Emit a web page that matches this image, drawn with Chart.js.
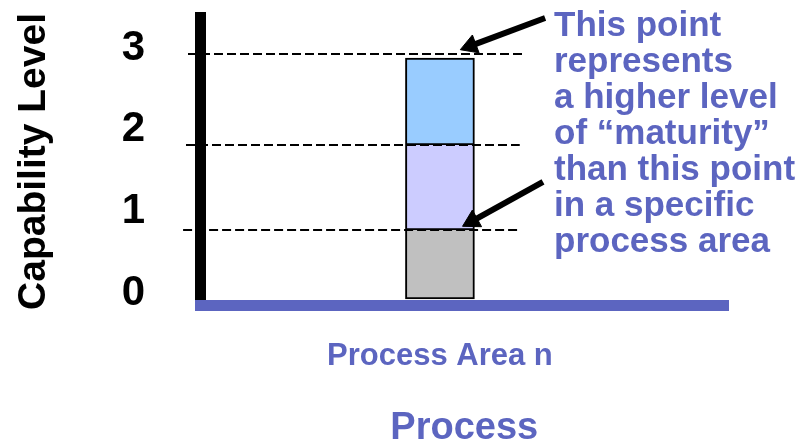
<!DOCTYPE html>
<html>
<head>
<meta charset="utf-8">
<script src="https://cdn.jsdelivr.net/npm/chart.js@4"></script>
<style>
  html, body { margin: 0; padding: 0; background: #fff; }
  #wrap { width: 801px; height: 448px; }
</style>
</head>
<body>
<div id="wrap"><canvas id="levelChart"></canvas></div>
<script>
// values
const yTicks = [0, 1, 2, 3];
const xLabel = 'Process Area n';
const barX = 45.4;
const segLow = [0, 0.845, 1.886];
const segHigh = [0.845, 1.886, 2.95];
const segColors = ['#c0c0c0', '#ccccff', '#99ccff'];
const levelLines = [0.845, 1.886, 3.0];
const levelStart = [-3.2, -2.65, -2.27];
const levelEnd = [60.4, 60.5, 61.5];
const arrowFrom = [{ x: 65.3, y: 3.441 }, { x: 64.9, y: 1.433 }];
const arrowTo = [{ x: 51.2, y: 3.1 }, { x: 51.5, y: 0.955 }];
const noteLines = ['This point', 'represents', 'a higher level', 'of \u201cmaturity\u201d',
    'than this point', 'in a specific', 'process area'];

const blue = '#5c65c0';
Chart.defaults.font.family = '"Liberation Sans", Arial, sans-serif';

const datasets = [];

segLow.forEach((lo, i) => {
    datasets.push({
        type: 'bar',
        data: [{ x: barX, y: [lo, segHigh[i]] }],
        backgroundColor: segColors[i],
        borderColor: '#000',
        borderWidth: 2,
        // the segment above draws the shared edge
        borderSkipped: i < segLow.length - 1 ? 'top' : false,
        barThickness: 69,
        grouped: false,
        order: 2,
    });
});

levelLines.forEach((v, i) => {
    datasets.push({
        type: 'line',
        data: [{ x: levelStart[i], y: v }, { x: levelEnd[i], y: v }],
        borderColor: '#000',
        borderWidth: 2,
        borderDash: [9, 4],
        pointRadius: 0,
        clip: false,
        order: 1,
    });
});

function arrowAngle(ctx) {
    const d = ctx.dataset.data;
    const xs = ctx.chart.scales.x, ys = ctx.chart.scales.y;
    const dx = xs.getPixelForValue(d[1].x) - xs.getPixelForValue(d[0].x);
    const dy = ys.getPixelForValue(d[1].y) - ys.getPixelForValue(d[0].y);
    return Math.atan2(dy, dx) * 180 / Math.PI + 90;
}

arrowFrom.forEach((p, i) => {
    datasets.push({
        type: 'line',
        data: [p, arrowTo[i]],
        borderColor: '#000',
        borderWidth: 6,
        pointRadius: [0, 11],
        pointStyle: 'triangle',
        pointBackgroundColor: '#000',
        pointBorderColor: '#000',
        pointBorderWidth: 1,
        rotation: arrowAngle,
        clip: false,
        order: 0,
    });
});

const notePlugin = {
    id: 'note',
    afterDraw(chart) {
        const ctx = chart.ctx;
        ctx.save();
        ctx.font = 'bold 35px "Liberation Sans", Arial, sans-serif';
        ctx.fillStyle = blue;
        ctx.textAlign = 'left';
        ctx.textBaseline = 'alphabetic';
        noteLines.forEach((t, i) => ctx.fillText(t, 554, 36 + 36 * i));
        ctx.restore();
    }
};

new Chart(document.getElementById('levelChart'), {
    data: { datasets },
    options: {
        responsive: true,
        maintainAspectRatio: false,
        animation: false,
        layout: { padding: { top: 17.5, right: 72.5, left: 0, bottom: 0 } },
        plugins: { legend: { display: false }, tooltip: { enabled: false } },
        scales: {
            x: {
                type: 'linear',
                min: 0,
                max: 100,
                offset: false,
                grid: { display: false, drawTicks: false, offset: false },
                border: { display: true, color: blue, width: 11, z: 1 },
                afterBuildTicks: (s) => { s.ticks = [{ value: barX }]; },
                afterFit: (s) => { s.height = 142.5; },
                ticks: {
                    callback: () => xLabel,
                    color: blue,
                    font: { size: 31, weight: 'bold' },
                    padding: 32,
                    maxRotation: 0,
                },
                title: {
                    display: true,
                    text: 'Process',
                    color: blue,
                    font: { size: 38, weight: 'bold', lineHeight: 1 },
                    padding: { top: 0, bottom: 0 },
                },
            },
            y: {
                type: 'linear',
                min: -0.0796,
                max: 3.447,
                grid: { display: false, drawTicks: true, tickLength: 55 },
                border: { display: true, color: '#000', width: 11 },
                afterBuildTicks: (s) => { s.ticks = yTicks.map(v => ({ value: v })); },
                afterFit: (s) => { s.width = 200; },
                ticks: {
                    callback: (v) => String(v),
                    color: '#000',
                    font: { size: 42, weight: 'bold', lineHeight: 0.8 },
                    padding: 0,
                    labelOffset: -6,
                },
                title: {
                    display: true,
                    text: 'Capability Level',
                    color: '#000',
                    font: { size: 39, weight: 'bold', lineHeight: 1 },
                    padding: { top: 15, bottom: 0 },
                },
            },
        },
    },
    plugins: [notePlugin],
});
</script>
</body>
</html>
